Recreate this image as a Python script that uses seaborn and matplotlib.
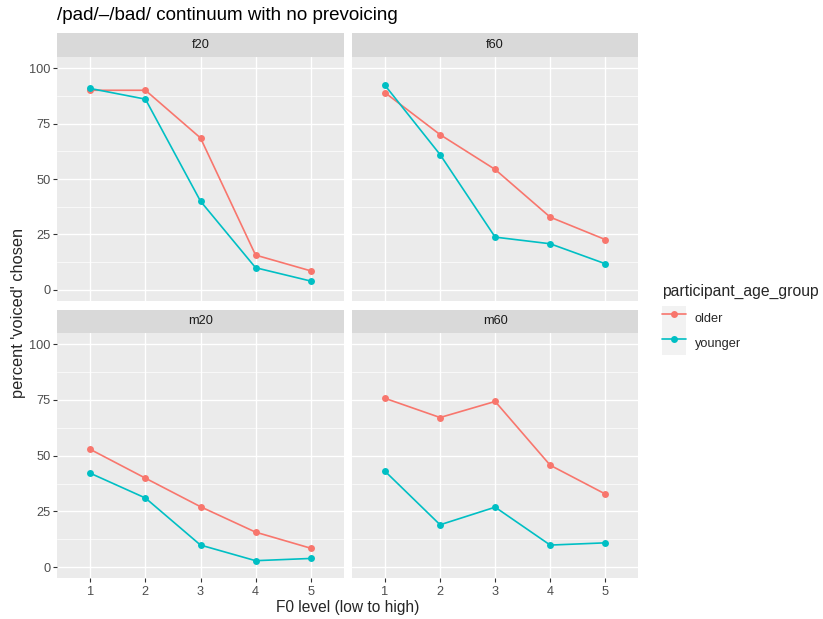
import numpy as np
import pandas as pd
import seaborn as sns
import matplotlib.pyplot as plt
from matplotlib.lines import Line2D
from matplotlib.patches import Patch
from matplotlib.legend_handler import HandlerTuple

# -----------------------------
# data
# -----------------------------
f0_levels = [1, 2, 3, 4, 5]
talkers = ['f20', 'f60', 'm20', 'm60']
groups = ['older', 'younger']

f20_older = [90, 90, 68.5, 15.7, 8.6]
f20_younger = [90.8, 86, 40, 10, 4]
f60_older = [88.9, 70, 54.3, 32.8, 22.7]
f60_younger = [92.2, 61, 23.8, 20.8, 11.8]
m20_older = [52.8, 39.9, 27.1, 15.7, 8.5]
m20_younger = [42.1, 31, 9.9, 2.9, 3.9]
m60_older = [75.7, 67.1, 74.3, 45.7, 32.8]
m60_younger = [43, 19, 26.9, 9.9, 10.9]

series = {
    ('f20', 'older'): f20_older, ('f20', 'younger'): f20_younger,
    ('f60', 'older'): f60_older, ('f60', 'younger'): f60_younger,
    ('m20', 'older'): m20_older, ('m20', 'younger'): m20_younger,
    ('m60', 'older'): m60_older, ('m60', 'younger'): m60_younger,
}
rows = []
for (talker, grp), vals in series.items():
    for lev, v in zip(f0_levels, vals):
        rows.append({'talker': talker, 'participant_age_group': grp, 'f0': lev, 'pct': v})
df = pd.DataFrame(rows)

palette = {'older': '#F8766D', 'younger': '#00BFC4'}

# -----------------------------
# layout (pixel boxes -> figure fractions)
# -----------------------------
sns.set_style('white')
plt.rcParams['font.family'] = ['Liberation Sans', 'DejaVu Sans']

W, H = 823, 619
def box(l, t, r, b):
    return [l / W, 1 - b / H, (r - l) / W, (b - t) / H]

panel_px = {
    'f20': (57.3, 57, 343.7, 301),
    'f60': (352, 57, 638.3, 301),
    'm20': (57.3, 333, 343.7, 578.3),
    'm60': (352, 333, 638.3, 578.3),
}
strip_px = {'top': (32.5, 57), 'bottom': (309.8, 333)}

tick_size = 9.2
fig = plt.figure(figsize=(W / 100, H / 100), dpi=100)

for talker in talkers:
    l, t, r, b = panel_px[talker]
    ax = fig.add_axes(box(l, t, r, b))
    ax.set_facecolor('#EBEBEB')
    sub = df[df['talker'] == talker]
    sns.lineplot(data=sub, x='f0', y='pct', hue='participant_age_group',
                 palette=palette, hue_order=groups, marker='o', markersize=5,
                 markeredgewidth=0, linewidth=1.2, legend=False, ax=ax, zorder=3)
    ax.set_xlim(0.4, 5.6)
    ax.set_ylim(-5, 105)
    ax.set_xticks(f0_levels)
    ax.set_yticks([0, 25, 50, 75, 100])
    ax.set_yticks([12.5, 37.5, 62.5, 87.5], minor=True)
    ax.grid(which='major', color='white', linewidth=1.0)
    ax.grid(which='minor', axis='y', color='white', linewidth=0.5)
    ax.set_axisbelow(True)
    for s in ax.spines.values():
        s.set_visible(False)
    ax.set_xlabel('')
    ax.set_ylabel('')
    ax.tick_params(which='major', length=2.7, width=0.8, color='#333333',
                   labelsize=tick_size, labelcolor='#4D4D4D', pad=2)
    ax.tick_params(axis='x', pad=3.2)
    ax.tick_params(which='minor', length=0)
    left = talker in ('f20', 'm20')
    bottom = talker in ('m20', 'm60')
    ax.tick_params(axis='y', left=left, labelleft=left)
    ax.tick_params(axis='x', bottom=bottom, labelbottom=bottom)

    st, sb = strip_px['top'] if not bottom else strip_px['bottom']
    sax = fig.add_axes(box(l, st, r, sb))
    sax.set_facecolor('#D9D9D9')
    sax.set_xticks([])
    sax.set_yticks([])
    for s in sax.spines.values():
        s.set_visible(False)
    sax.text(0.5, 0.5, talker, ha='center', va='center', fontsize=tick_size,
             color='#1A1A1A', transform=sax.transAxes)

fig.text(57 / W, 1 - 15.5 / H, '/pad/–/bad/ continuum with no prevoicing',
         fontsize=13.5, ha='left', va='center', color='black')
fig.text(18.5 / W, 1 - 313 / H, "percent 'voiced' chosen", rotation=90,
         fontsize=11.8, ha='center', va='center')
fig.text(347.7 / W, 1 - 607.5 / H, 'F0 level (low to high)', fontsize=11.2,
         ha='center', va='center')

# legend with grey key boxes
handles = []
for g in groups:
    key_bg = Patch(facecolor='#F2F2F2', edgecolor='none')
    key_line = Line2D([], [], color=palette[g], marker='o', markersize=5,
                      markeredgewidth=0, linewidth=1.2)
    handles.append((key_bg, key_line))
key_fs = 24.4 / (tick_size * 100 / 72)
key_h = (key_fs - 0.245) / 0.65
leg = fig.legend(handles, groups, handler_map={tuple: HandlerTuple(ndivide=1)},
                 title='participant_age_group', title_fontsize=11.3, fontsize=tick_size,
                 loc='upper left', bbox_to_anchor=(662 / W, 1 - 284 / H),
                 frameon=False, handlelength=key_fs, handleheight=key_h,
                 labelspacing=0, handletextpad=0.65, borderpad=0,
                 borderaxespad=0, alignment='left')
leg._legend_box.sep = 5

fig.savefig('out.png', dpi=100)
